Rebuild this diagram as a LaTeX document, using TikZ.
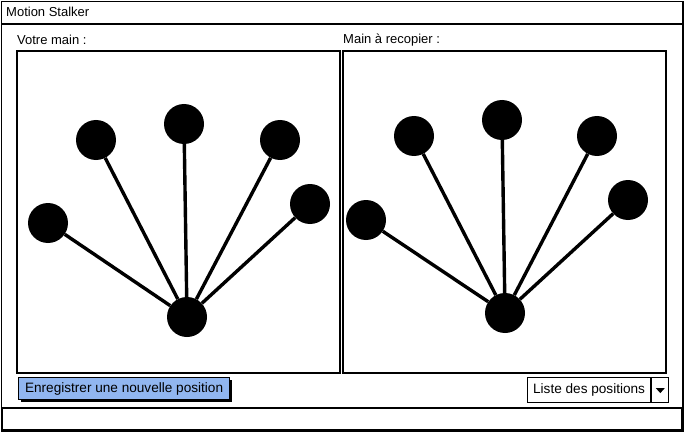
\documentclass[tikz,border=0pt]{standalone}
\usepackage{fontspec}
\setmainfont{Liberation Sans}
\usepackage{tikz}
\usetikzlibrary{positioning,shadows}
\definecolor{btnblue}{RGB}{145,182,240}

\begin{document}
\begin{tikzpicture}[x=1pt,y=-1pt,
    frame/.style={draw, line width=1.6pt},
    joint/.style={circle, fill=black, minimum size=40pt, inner sep=0pt},
    bone/.style={line width=3.4pt},
    label/.style={anchor=west, inner sep=0pt, font=\fontsize{13}{15}\selectfont}]
      \useasboundingbox (0,0) rectangle (685,433);
      % window
      \draw[frame] (1.5,1.5) rectangle (683,431);
      \draw[frame] (1.5,24) -- (683,24);
      \draw[frame] (2.5,408) rectangle (682,430);
      \node[label] (titre) at (6,12) {Motion Stalker};
      % panels
      \node[label] (votre) at (17,40) {Votre main :};
      \node[label] (modele) at (343,40) {Main à recopier :};
      \draw[frame] (17,51) rectangle (340,373);
      \draw[frame] (343,51) rectangle (666,373);
      % left hand
      \node[joint] (l0) at (187,317) {};
      \node[joint] (l1) at (48,223) {};
      \node[joint] (l2) at (96,140) {};
      \node[joint] (l3) at (184,124) {};
      \node[joint] (l4) at (280,140) {};
      \node[joint] (l5) at (310,204) {};
      \draw[bone] (l0)--(l1);
      \draw[bone] (l0)--(l2);
      \draw[bone] (l0)--(l3);
      \draw[bone] (l0)--(l4);
      \draw[bone] (l0)--(l5);
      % right hand
      \node[joint] (r0) at (505,313) {};
      \node[joint] (r1) at (366,220) {};
      \node[joint] (r2) at (414,136) {};
      \node[joint] (r3) at (502,120) {};
      \node[joint] (r4) at (597,136) {};
      \node[joint] (r5) at (628,200) {};
      \draw[bone] (r0)--(r1);
      \draw[bone] (r0)--(r2);
      \draw[bone] (r0)--(r3);
      \draw[bone] (r0)--(r4);
      \draw[bone] (r0)--(r5);
      % controls
      \node[draw, line width=1.2pt, fill=btnblue, anchor=north west,
            minimum width=211pt, minimum height=22pt, inner sep=0pt,
            font=\fontsize{13.6}{15}\selectfont,
            drop shadow={shadow xshift=2pt, shadow yshift=-2pt, fill=black, opacity=1}]
            (save) at (18,377) {Enregistrer une nouvelle position};
      \node[draw, line width=1.2pt, anchor=north west, fill=white,
            minimum width=123pt, minimum height=25pt, inner sep=0pt,
            font=\fontsize{13.6}{15}\selectfont]
            (liste) at (527,377) {Liste des positions};
      \node[draw, line width=1.2pt, fill=white, minimum width=17pt,
            minimum height=25pt, inner sep=0pt, right=0pt of liste] (fleche) {};
      \fill (fleche.center) ++(-4.5,-2) -- ++(9,0) -- ++(-4.5,5) -- cycle;
    \end{tikzpicture}
\end{document}
